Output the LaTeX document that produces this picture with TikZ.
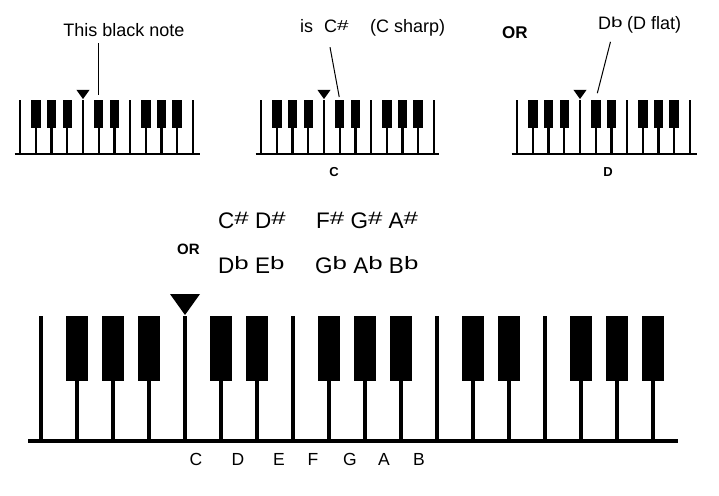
\documentclass[tikz,border=0pt]{standalone}
\usepackage{fontspec}
\setmainfont{Liberation Sans}
\usepackage{graphicx}
\usetikzlibrary{positioning}
\newcommand{\up}[1]{\raisebox{0.15em}{\scalebox{1.15}[0.8]{#1}}}
\newcommand{\shp}{\up{\#}}
\newcommand{\flt}{\up{b}}
% #1 = index of last key line, #2 = right end of the key bed
\newcommand{\keyboard}[2]{%
  \foreach \k in {-4,...,#1} \draw[keyline] (\k*36,0) -- (\k*36,125);
  \foreach \k in {-3,-2,-1,1,2,4,5,6,8,9,11,12,13} {
    \ifnum\k>#1\relax\else\fill (\k*36-11,60) rectangle (\k*36+11,125);\fi
  }
  \draw[keybed] (-157,0) -- (#2,0);
  \fill (0,126) -- (-15,147) -- (15,147) -- cycle;
}

\begin{document}
\begin{tikzpicture}[x=1pt, y=-1pt,
    txt/.style={inner sep=0pt, font=\fontsize{18}{20}\selectfont},
    note/.style={inner sep=0pt, font=\fontsize{22.5}{26}\selectfont},
    keyname/.style={inner sep=0pt, font=\fontsize{17.5}{20}\selectfont},
    tag/.style={inner sep=0pt, font=\bfseries\fontsize{13}{15}\selectfont},
    ortag/.style={inner sep=0pt, font=\bfseries\fontsize{17}{20}\selectfont},
    pointer/.style={line width=1pt},
    keyline/.style={line width=4.5pt},
    keybed/.style={line width=3.5pt},
]
    \useasboundingbox (0,0) rectangle (719,495);

    % Small keyboards
    \begin{scope}[shift={(83,154)}, yscale=-1, scale=0.436,
        keyline/.style={line width=2.3pt}, keybed/.style={line width=2.7pt}]
        \keyboard{7}{268}
        \coordinate (cs1) at (36,125);
    \end{scope}
    \begin{scope}[shift={(324,154)}, yscale=-1, scale=0.436,
        keyline/.style={line width=2.3pt}, keybed/.style={line width=2.7pt}]
        \keyboard{7}{264}
        \coordinate (cs2) at (36,125);
    \end{scope}
    \begin{scope}[shift={(580,154)}, yscale=-1, scale=0.436,
        keyline/.style={line width=2.3pt}, keybed/.style={line width=2.7pt}]
        \keyboard{7}{268}
        \coordinate (cs3) at (36,125);
    \end{scope}

    % Top labels
    \node[txt, anchor=base] (blacknote) at (124,37) {This black note};
    \node[txt, anchor=base west] (is) at (300,33) {is};
    \node[txt, anchor=base west] (csharp) at (324,33) {C\shp};
    \node[txt, anchor=base west] (sharpname) at (370,33) {(C sharp)};
    \node[ortag, anchor=base west] (or1) at (502,39) {OR};
    \node[txt, anchor=base west] (dflat) at (598,30) {D\flt};
    \node[txt, anchor=base west] (flatname) at (627,30) {(D flat)};
    \node[tag, anchor=base] (cname) at (334,176) {C};
    \node[tag, anchor=base] (dname) at (608,176) {D};

    % Pointers
    \draw[pointer, shorten <=6pt, shorten >=5pt] (blacknote.south -| cs1) -- (cs1);
    \draw[pointer, shorten <=14pt, shorten >=2.5pt] ([xshift=-9pt]csharp.south) -- (cs2);
    \draw[pointer, shorten <=12pt, shorten >=6.5pt] ([xshift=3pt]dflat.south) -- (cs3);

    % Sharps and flats
    \node[note, anchor=base west] (sharps1) at (218,228) {C\shp{} D\shp};
    \node[note, anchor=base west] (sharps2) at (316,228) {F\shp{} G\shp{} A\shp};
    \node[ortag, font=\bfseries\fontsize{15}{18}\selectfont, anchor=base west] (or2) at (177,254) {OR};
    \node[note, anchor=base west] (flats1) at (218,273) {D\flt{} E\flt};
    \node[note, anchor=base west] (flats2) at (315,273) {G\flt{} A\flt{} B\flt};

    % Big keyboard
    \begin{scope}[shift={(185,441)}, yscale=-1]
        \keyboard{13}{493}
    \end{scope}

    % Key names
    \foreach \name/\x in {C/196, D/238, E/279, F/313, G/350, A/384, B/419}
        \node[keyname, anchor=base] (key\name) at (\x,465) {\name};
\end{tikzpicture}
\end{document}
